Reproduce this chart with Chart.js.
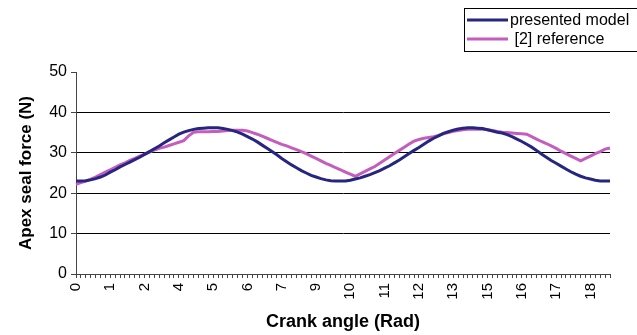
<!DOCTYPE html>
<html>
<head>
<meta charset="utf-8">
<script src="https://cdn.jsdelivr.net/npm/chart.js@4/dist/chart.umd.min.js"></script>
<style>
  html, body { margin: 0; padding: 0; background: #fff; }
  #wrap { width: 637px; height: 335px; }
</style>
</head>
<body>
<div id="wrap"><canvas id="sealChart" width="637" height="335"></canvas></div>
<script>
// Apex seal force vs crank angle, one value per 10 deg category
const seriesNames = ['presented model', ' [2] reference'];
const seriesColors = ['#262680', '#c55dbe'];

const presentedModel = [
  23.0, 23.0, 23.1, 23.3, 23.6, 24.0, 24.5, 25.2, 25.8, 26.5,
  27.1, 27.7, 28.3, 28.9, 29.6, 30.3, 31.0, 31.7, 32.5, 33.2,
  33.9, 34.6, 35.1, 35.5, 35.8, 36.0, 36.1, 36.2, 36.2, 36.2,
  36.0, 35.8, 35.5, 35.1, 34.6, 34.0, 33.4, 32.7, 31.9, 31.1,
  30.3, 29.5, 28.6, 27.8, 27.0, 26.3, 25.6, 25.0, 24.4, 24.0,
  23.6, 23.3, 23.1, 23.0, 23.0, 23.0, 23.2, 23.5, 23.8, 24.2,
  24.6, 25.1, 25.6, 26.2, 26.8, 27.5, 28.2, 29.0, 29.8, 30.6,
  31.3, 32.1, 32.9, 33.6, 34.2, 34.8, 35.2, 35.6, 35.9, 36.1,
  36.2, 36.2, 36.1, 36.0, 35.7, 35.4, 35.1, 34.9, 34.5, 34.0,
  33.4, 32.8, 32.1, 31.4, 30.6, 29.7, 28.9, 28.1, 27.4, 26.7,
  26.0, 25.3, 24.7, 24.2, 23.8, 23.5, 23.2, 23.0, 23.0, 23.0
];

const reference2 = [
  22.2, 22.6, 23.0, 23.5, 24.0, 24.6, 25.2, 25.8, 26.4, 27.0,
  27.5, 28.1, 28.6, 29.2, 29.7, 30.2, 30.7, 31.1, 31.4, 31.8,
  32.2, 32.6, 33.0, 34.2, 35.1, 35.2, 35.2, 35.2, 35.3, 35.3,
  35.4, 35.5, 35.6, 35.6, 35.6, 35.4, 35.0, 34.6, 34.1, 33.6,
  33.1, 32.6, 32.1, 31.7, 31.2, 30.8, 30.3, 29.8, 29.2, 28.6,
  28.0, 27.4, 26.9, 26.3, 25.8, 25.2, 24.7, 24.2, 24.8, 25.4,
  26.0, 26.6, 27.4, 28.2, 29.0, 29.8, 30.6, 31.4, 32.2, 32.9,
  33.3, 33.6, 33.8, 34.0, 34.3, 34.7, 35.0, 35.3, 35.5, 35.7,
  35.8, 35.8, 35.8, 35.8, 35.7, 35.5, 35.3, 35.1, 35.0, 34.9,
  34.8, 34.7, 34.6, 34.0, 33.4, 32.8, 32.3, 31.7, 31.1, 30.4,
  29.8, 29.2, 28.6, 28.0, 28.6, 29.2, 29.8, 30.3, 30.9, 31.2
];

// labels shown on every 7th category (rounded radians)
const xTickLabels = ['0', '1', '2', '4', '5', '6', '7', '9', '10', '11', '12', '13', '15', '16', '17', '18'];
const labelEvery = 7;
const yTicks = [0, 10, 20, 30, 40, 50];

const categories = presentedModel.map((v, i) => i);
const FONT = '"Liberation Sans", Arial, sans-serif';

// Excel-style legend box in the top right corner
const legendBox = {
    id: 'legendBox',
    afterDraw(chart) {
        const ctx = chart.ctx;
        ctx.save();
        ctx.strokeStyle = '#000';
        ctx.lineWidth = 1;
        ctx.strokeRect(464.5, 8.5, 180, 43);
        ctx.font = '16px ' + FONT;
        ctx.textBaseline = 'middle';
        chart.data.datasets.forEach((ds, i) => {
            const y = 20 + i * 19;
            ctx.strokeStyle = ds.borderColor;
            ctx.lineWidth = 3;
            ctx.beginPath();
            ctx.moveTo(467, y);
            ctx.lineTo(508, y);
            ctx.stroke();
            ctx.fillStyle = '#000';
            ctx.fillText(ds.label, 510, y + 1);
        });
        ctx.restore();
    }
};

const ctx = document.getElementById('sealChart').getContext('2d');
new Chart(ctx, {
    type: 'line',
    data: {
        labels: categories,
        datasets: [{
            label: seriesNames[0],
            data: presentedModel,
            borderColor: seriesColors[0],
            borderWidth: 3,
            pointRadius: 0,
            tension: 0
        }, {
            label: seriesNames[1],
            data: reference2,
            borderColor: seriesColors[1],
            borderWidth: 3,
            pointRadius: 0,
            tension: 0
        }]
    },
    options: {
        responsive: false,
        animation: false,
        layout: { padding: { left: 0, right: 27, top: 72, bottom: 0 } },
        plugins: { legend: { display: false }, tooltip: { enabled: false } },
        scales: {
            x: {
                type: 'category',
                offset: false,
                afterFit: s => { s.height = 61; },
                border: { color: '#444', width: 1 },
                grid: { drawOnChartArea: false, tickLength: 4, color: '#444' },
                ticks: {
                    autoSkip: false,
                    maxRotation: 90,
                    minRotation: 90,
                    padding: 5,
                    color: '#000',
                    font: { family: FONT, size: 15 },
                    callback: (v, i) => (i % labelEvery === 0 ? xTickLabels[i / labelEvery] : '')
                },
                title: {
                    display: true,
                    text: 'Crank angle (Rad)',
                    color: '#000',
                    font: { family: FONT, size: 18, weight: 'bold' },
                    padding: { top: 2, bottom: 2 }
                }
            },
            y: {
                min: yTicks[0],
                max: yTicks[yTicks.length - 1],
                afterFit: s => { s.width = 76; },
                afterBuildTicks: s => { s.ticks = yTicks.map(v => ({ value: v })); },
                border: { color: '#444', width: 1 },
                grid: {
                    tickLength: 5,
                    color: c => (c.tick && c.tick.value > 0 && c.tick.value < 50 ? '#000' : 'rgba(0,0,0,0)'),
                    tickColor: '#444'
                },
                ticks: {
                    padding: 4,
                    color: '#000',
                    font: { family: FONT, size: 16 }
                },
                title: {
                    display: true,
                    text: 'Apex seal force (N)',
                    color: '#000',
                    font: { family: FONT, size: 17, weight: 'bold' },
                    padding: { top: 16, bottom: 0 }
                }
            }
        }
    },
    plugins: [legendBox]
});
</script>
</body>
</html>
